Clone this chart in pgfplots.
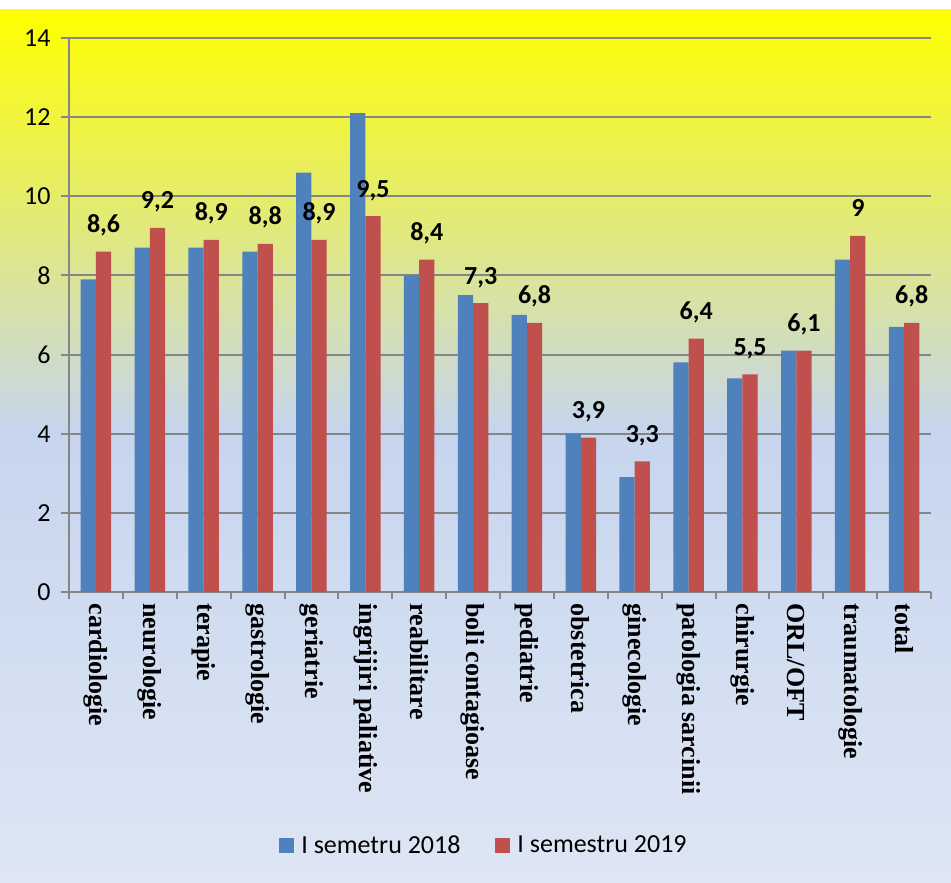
\documentclass[border=0pt]{standalone}
\usepackage{pgfplots}
\pgfplotsset{compat=1.18}
\usepackage{fontspec}
\setmainfont{Carlito}
\newfontfamily\tnr{Liberation Serif}

\definecolor{barblue}{HTML}{4F81BD}
\definecolor{barred}{HTML}{C0504D}
\definecolor{gridgray}{HTML}{868686}
\definecolor{bgblue}{HTML}{C6D5EE}
\definecolor{bglow}{HTML}{DEE6F4}

\pgfplotsset{
  sqlegend/.style={legend image code/.code={\fill[##1,draw=none] (0pt,-7.5pt) rectangle (15pt,7.5pt);}}
}

\begin{document}
\begin{tikzpicture}[x=1pt,y=1pt]
  % background
  \shade[top color=yellow, bottom color=bgblue] (0,874) rectangle (951,453);
  \shade[top color=bgblue, bottom color=bglow] (0,453) rectangle (951,0);
  \fill[white] (0,874) rectangle (951,883);

  \begin{axis}[
      at={(69pt,291pt)}, anchor=south west,
      scale only axis,
      width=862pt, height=554pt,
      ybar=0pt,
      bar width=15.3pt,
      xmin=-0.5, xmax=15.5,
      ymin=0, ymax=14,
      ytick={0,2,...,14},
      xtick={0,...,15},
      xticklabels={cardiologie, neurologie, terapie, gastrologie, geriatrie,
        ingrijiri paliative, reabilitare, boli contagioase, pediatrie, obstetrica,
        ginecologie, patologia sarcinii, chirurgie, ORL/OFT, traumatologie, total},
      minor xtick={-0.5,0.5,...,15.5},
      axis lines*=left,
      axis line style={gridgray, line width=2pt},
      ymajorgrids,
      major grid style={gridgray, line width=2pt},
      tick align=outside,
      major tick length=8pt,
      minor tick length=7pt,
      major x tick style={draw=none},
      minor x tick style={gridgray, line width=2pt},
      major y tick style={gridgray, line width=2pt},
      /pgf/number format/assume math mode=true,
      /pgf/number format/use comma,
      ticklabel style={font=\fontsize{26}{30}\selectfont, text=black},
      yticklabel style={xshift=-7pt},
      xticklabel style={rotate=-90, anchor=west, font=\fontsize{26}{30}\selectfont\tnr\bfseries},
      legend style={
        at={(axis description cs:0.4814,-0.4567)}, anchor=center,
        draw=none, fill=none,
        legend columns=2,
        font=\fontsize{26}{30}\selectfont,
        /tikz/every odd column/.append style={column sep=5pt},
        /tikz/every even column/.append style={column sep=33pt}
      },
    ]
    \addplot[fill=barblue, draw=none, sqlegend] coordinates {
      (0,7.9) (1,8.7) (2,8.7) (3,8.6) (4,10.6) (5,12.1) (6,8.0) (7,7.5)
      (8,7.0) (9,4.0) (10,2.9) (11,5.8) (12,5.4) (13,6.1) (14,8.4) (15,6.7)};
    \addplot[fill=barred, draw=none, sqlegend,
      nodes near coords,
      nodes near coords style={anchor=base, inner sep=0pt, yshift=19pt,
        font=\fontsize{26}{30}\selectfont\bfseries, text=black}] coordinates {
      (0,8.6) (1,9.2) (2,8.9) (3,8.8) (4,8.9) (5,9.5) (6,8.4) (7,7.3)
      (8,6.8) (9,3.9) (10,3.3) (11,6.4) (12,5.5) (13,6.1) (14,9) (15,6.8)};
    \legend{I semetru 2018, I semestru 2019}
  \end{axis}
  \pgfresetboundingbox
  \useasboundingbox (0,0) rectangle (951,883);
\end{tikzpicture}
\end{document}
